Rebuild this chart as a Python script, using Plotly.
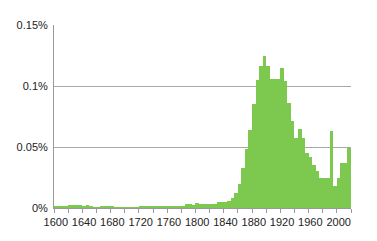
import plotly.graph_objects as go

years = [1600, 1605, 1610, 1615, 1620, 1625, 1630, 1635, 1640, 1645,
         1650, 1655, 1660, 1665, 1670, 1675, 1680, 1685, 1690, 1695,
         1700, 1705, 1710, 1715, 1720, 1725, 1730, 1735, 1740, 1745,
         1750, 1755, 1760, 1765, 1770, 1775, 1780, 1785, 1790, 1795,
         1800, 1805, 1810, 1815, 1820, 1825, 1830, 1835, 1840, 1845,
         1850, 1855, 1860, 1865, 1870, 1875, 1880, 1885, 1890, 1895,
         1900, 1905, 1910, 1915, 1920, 1925, 1930, 1935, 1940, 1945,
         1950, 1955, 1960, 1965, 1970, 1975, 1980, 1985, 1990, 1995,
         2000, 2005, 2010, 2015]

# frequency in percent
freq_pct = [0.0019, 0.0019, 0.0014, 0.0014, 0.0022, 0.0022, 0.0027, 0.0022, 0.0016, 0.0022,
            0.0014, 0.0005, 0.0005, 0.0010, 0.0010, 0.0010, 0.0010, 0.0008, 0.0008, 0.0008,
            0.0008, 0.0008, 0.0003, 0.0003, 0.0016, 0.0016, 0.0016, 0.0011, 0.0011, 0.0011,
            0.0014, 0.0014, 0.0011, 0.0011, 0.0016, 0.0016, 0.0016, 0.0033, 0.0033, 0.0022,
            0.0044, 0.0030, 0.0030, 0.0030, 0.0030, 0.0030, 0.0050, 0.0050, 0.0050, 0.0060,
            0.0080, 0.0120, 0.0200, 0.0330, 0.0480, 0.0640, 0.0850, 0.1050, 0.1160, 0.1250,
            0.1160, 0.1060, 0.1060, 0.1060, 0.1150, 0.1040, 0.0860, 0.0710, 0.0570, 0.0650,
            0.0570, 0.0450, 0.0420, 0.0350, 0.0300, 0.0250, 0.0245, 0.0250, 0.0630, 0.0180,
            0.0250, 0.0370, 0.0370, 0.0490]

label_years = [1600, 1640, 1680, 1720, 1760, 1800, 1840, 1880, 1920, 1960, 2000]
minor_tick_years = [1600, 1620, 1640, 1660, 1680, 1700, 1720, 1740, 1760, 1780,
                    1800, 1820, 1840, 1860, 1880, 1900, 1920, 1940, 1960, 1980,
                    2000, 2020]
y_ticks = [0, 0.05, 0.1, 0.15]
y_tick_text = ["0%", "0.05%", "0.1%", "0.15%"]

BIN = 5
fig = go.Figure()
fig.add_trace(go.Bar(
    x=[y + BIN / 2 for y in years],
    y=freq_pct,
    width=BIN,
    marker=dict(color="#7dc84e", line=dict(width=0)),
    hoverinfo="skip",
))

fig.update_layout(
    width=377, height=241,
    margin=dict(l=54, r=26, t=25, b=33),
    paper_bgcolor="white", plot_bgcolor="white",
    showlegend=False, bargap=0,
    font=dict(family="Liberation Sans, Arial, sans-serif", size=11, color="#222222"),
)
fig.update_xaxes(
    range=[1600, 2020],
    tickmode="array",
    tickvals=[y + BIN / 2 for y in label_years],
    ticktext=[str(y) for y in label_years],
    ticks="outside", ticklen=4, tickcolor="rgba(0,0,0,0)",
    showgrid=False, zeroline=False,
    showline=True, linecolor="#9a9a9a", linewidth=1,
    minor=dict(tickmode="array", tickvals=minor_tick_years, ticks="outside",
               ticklen=4, tickcolor="#9a9a9a", showgrid=False),
    fixedrange=True,
)
fig.update_yaxes(
    range=[0, 0.15],
    tickmode="array", tickvals=y_ticks, ticktext=y_tick_text,
    ticks="", showgrid=True, gridcolor="#a8a8a8", gridwidth=1,
    zeroline=False, showline=True, linecolor="#9a9a9a", linewidth=1,
    ticklabelstandoff=3,
    fixedrange=True,
)
fig.write_html("out.html", config={"displayModeBar": False})
